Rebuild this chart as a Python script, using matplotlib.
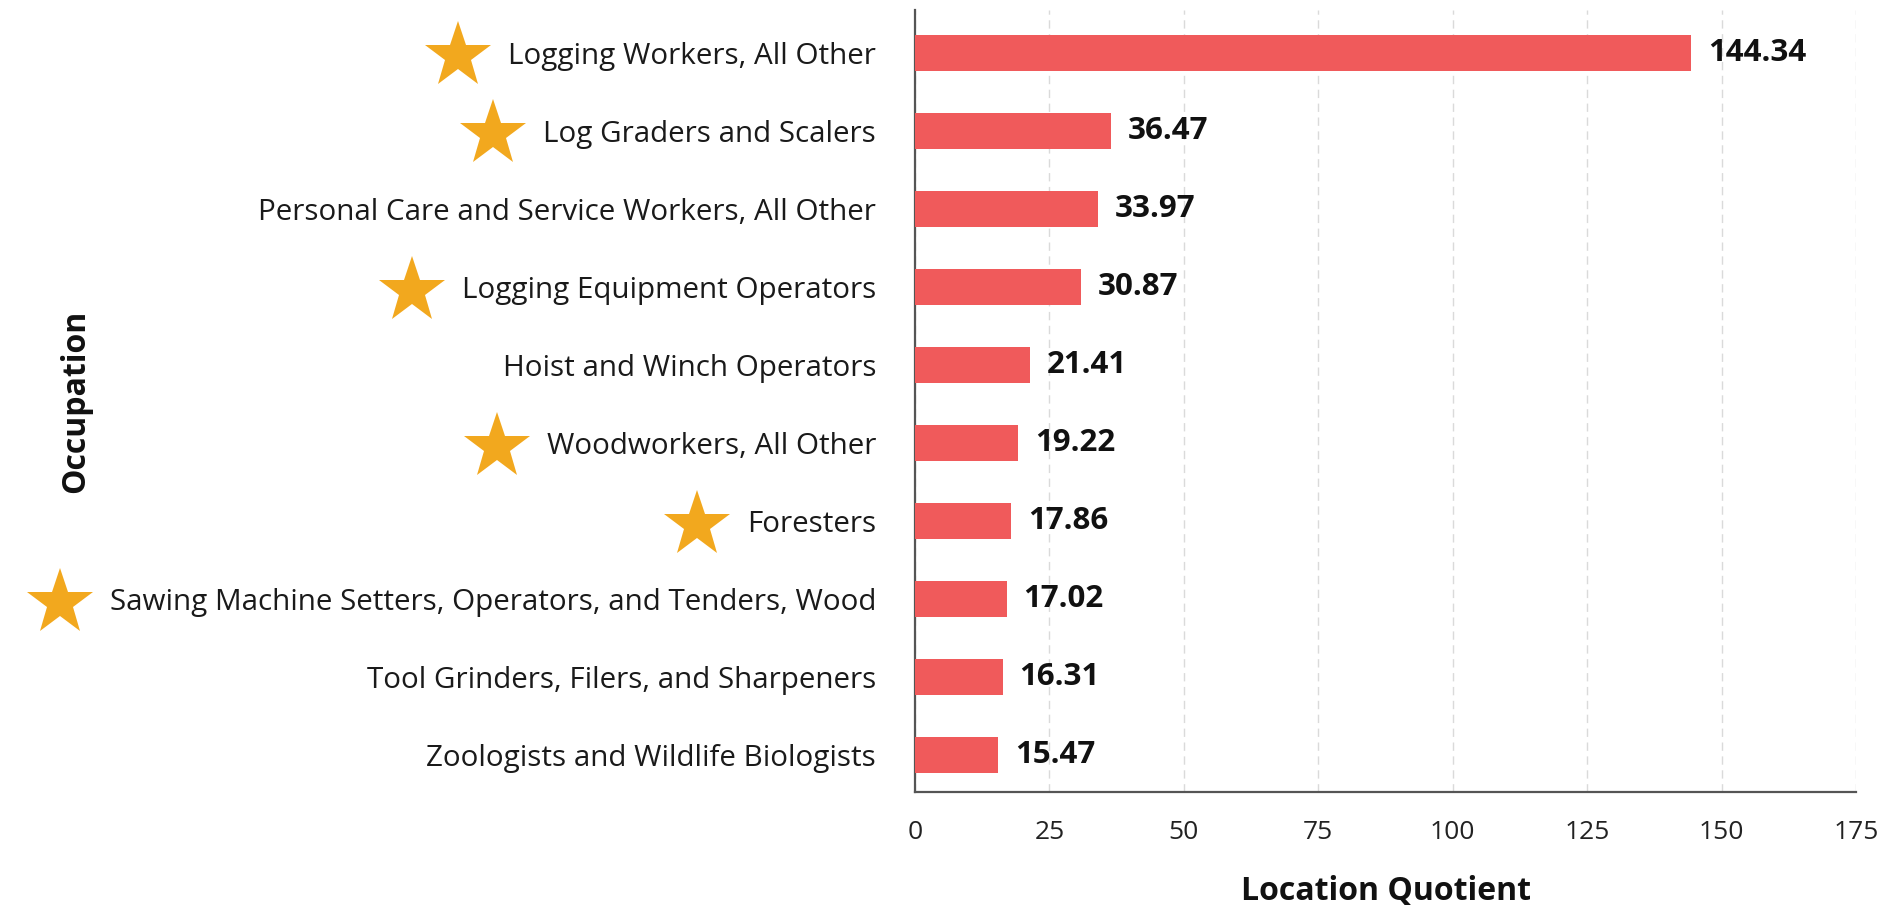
import matplotlib
matplotlib.use("Agg")
import matplotlib.pyplot as plt

occupations = [
    "Logging Workers, All Other",
    "Log Graders and Scalers",
    "Personal Care and Service Workers, All Other",
    "Logging Equipment Operators",
    "Hoist and Winch Operators",
    "Woodworkers, All Other",
    "Foresters",
    "Sawing Machine Setters, Operators, and Tenders, Wood",
    "Tool Grinders, Filers, and Sharpeners",
    "Zoologists and Wildlife Biologists",
]
location_quotient = [144.34, 36.47, 33.97, 30.87, 21.41, 19.22, 17.86, 17.02, 16.31, 15.47]
starred = [True, True, False, True, False, True, True, True, False, False]
x_ticks = [0, 25, 50, 75, 100, 125, 150, 175]

BAR_COLOR = "#F05A5B"
STAR_COLOR = "#F2A81E"
FONT = "Open Sans"

fig = plt.figure(figsize=(18.87, 9.09), dpi=100)
ax = fig.add_axes([0.4849, 0.1287, 0.4987, 0.8603])

ypos = list(range(len(occupations)))
ax.barh(ypos, location_quotient, height=0.46, color=BAR_COLOR, zorder=3)

for y, v in zip(ypos, location_quotient):
    ax.annotate(f"{v:.2f}", xy=(v, y), xytext=(12, 0), textcoords="offset points",
                va="center", ha="left", fontsize=22.5, fontweight="bold",
                family=FONT, color="#111111", zorder=4)

ax.set_xlim(0, 175)
ax.set_ylim(9.47, -0.55)
ax.set_xticks(x_ticks)
ax.set_xticklabels([str(t) for t in x_ticks], family=FONT, fontsize=19, color="#222222")
ax.set_yticks(ypos)
ax.set_yticklabels(occupations, family=FONT, fontsize=21.3, color="#1A1A1A")
ax.tick_params(axis="y", length=0, pad=28)
ax.tick_params(axis="x", length=0, pad=20)

ax.grid(axis="x", color="#DADADA", linestyle=(0, (6, 4)), linewidth=1.0, zorder=0)
for s in ["top", "right"]:
    ax.spines[s].set_visible(False)
for s in ["left", "bottom"]:
    ax.spines[s].set_color("#555555")
    ax.spines[s].set_linewidth(1.6)

ax.set_xlabel("Location Quotient", family=FONT, fontsize=23, fontweight="bold",
              color="#111111", labelpad=22)
ax.set_ylabel("Occupation", family=FONT, fontsize=23, fontweight="bold",
              color="#111111")
ax.yaxis.set_label_coords(-0.874, 0.5)

# stars next to the highlighted occupation labels
fig.canvas.draw()
renderer = fig.canvas.get_renderer()
inv = fig.transFigure.inverted()
for lab, flag in zip(ax.get_yticklabels(), starred):
    if not flag:
        continue
    bb = lab.get_window_extent(renderer)
    cx = bb.x0 - 50
    cy = (bb.y0 + bb.y1) / 2
    fx, fy = inv.transform((cx, cy))
    ax.plot([fx], [fy], marker="*", markersize=50, color=STAR_COLOR,
            markeredgewidth=0, transform=fig.transFigure, clip_on=False, zorder=5)

fig.savefig("out.png", dpi=100)
